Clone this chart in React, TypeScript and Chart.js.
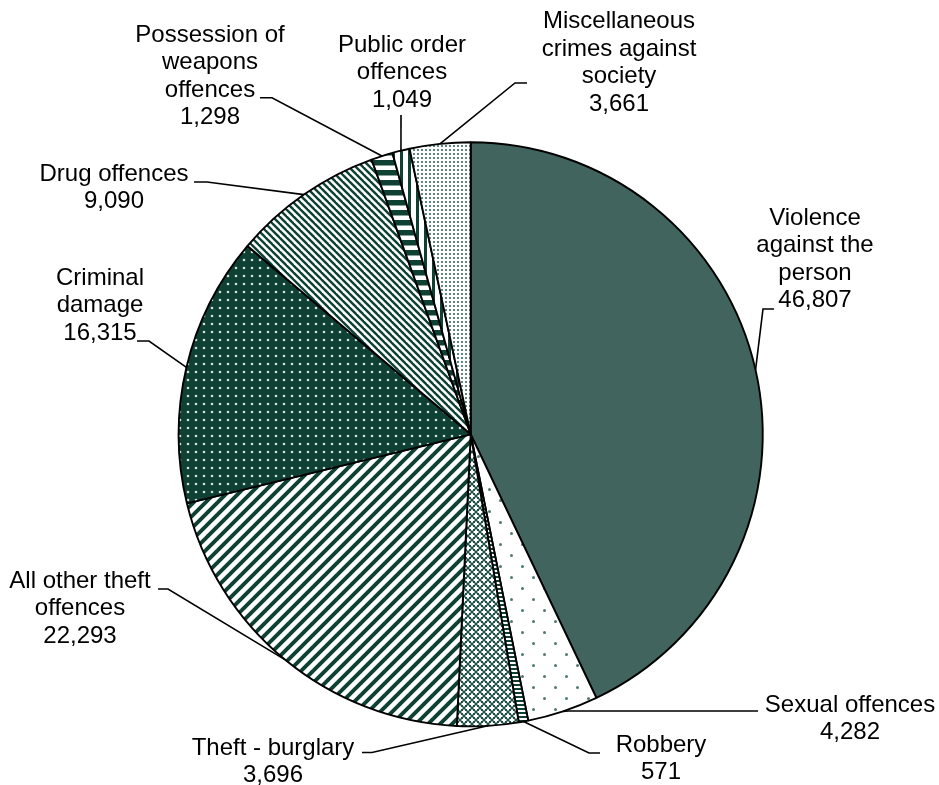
import React, { useEffect, useRef } from 'react';
import { Chart, registerables } from 'chart.js';

Chart.register(...registerables);

// ---- data ----
const categories = [
  'Violence against the person',
  'Sexual offences',
  'Robbery',
  'Theft - burglary',
  'All other theft offences',
  'Criminal damage',
  'Drug offences',
  'Possession of weapons offences',
  'Public order offences',
  'Miscellaneous crimes against society',
];
const values = [46807, 4282, 571, 3696, 22293, 16315, 9090, 1298, 1049, 3661];
const labelLines = [
  ['Violence', 'against the', 'person'],
  ['Sexual offences'],
  ['Robbery'],
  ['Theft - burglary'],
  ['All other theft', 'offences'],
  ['Criminal', 'damage'],
  ['Drug offences'],
  ['Possession of', 'weapons', 'offences'],
  ['Public order', 'offences'],
  ['Miscellaneous', 'crimes against', 'society'],
];

// ---- layout (label text centre x, first-line centre y, leader start, leader elbow) ----
const labelLayout = [
  { x: 815, y: 218, sx: 774, sy: 309, ex: 763, ey: 309 },
  { x: 850, y: 705, sx: 758, sy: 711, ex: 568, ey: 711 },
  { x: 661, y: 745, sx: 600, sy: 753, ex: 589, ey: 753 },
  { x: 273, y: 748, sx: 362, sy: 752.5, ex: 372, ey: 752.5 },
  { x: 80, y: 581, sx: 158, sy: 589, ex: 168, ey: 589 },
  { x: 100, y: 278, sx: 137, sy: 341, ex: 149, ey: 341 },
  { x: 114, y: 174, sx: 194, sy: 182, ex: 207, ey: 182 },
  { x: 210, y: 35, sx: 260, sy: 97.7, ex: 272, ey: 97.7 },
  { x: 402, y: 45, sx: 401, sy: 115, ex: 401, ey: 115 },
  { x: 619, y: 21.5, sx: 527, sy: 83, ex: 515, ey: 83 },
];
const LINE_H = 27.6;

const FG = '#0E4034';
const SOLID = '#41645F';

type Draw = (g: CanvasRenderingContext2D, w: number, h: number) => void;

function tile(ctx: CanvasRenderingContext2D, w: number, h: number, draw: Draw): CanvasPattern | string {
  const c = document.createElement('canvas');
  c.width = w;
  c.height = h;
  const g = c.getContext('2d')!;
  g.fillStyle = '#ffffff';
  g.fillRect(0, 0, w, h);
  draw(g, w, h);
  return ctx.createPattern(c, 'repeat') || FG;
}

function wrapped(w: number, h: number, fn: (dx: number, dy: number) => void) {
  for (const dx of [-w, 0, w]) for (const dy of [-h, 0, h]) fn(dx, dy);
}

function makeFills(ctx: CanvasRenderingContext2D) {
  const dot = (g: CanvasRenderingContext2D, x: number, y: number, r: number) => {
    g.beginPath();
    g.arc(x, y, r, 0, Math.PI * 2);
    g.fill();
  };
  const sexual = tile(ctx, 22, 22, (g, w, h) => {
    g.fillStyle = '#4F7A72';
    wrapped(w, h, (dx, dy) => {
      dot(g, 5.5 + dx, 5.5 + dy, 1.5);
      dot(g, 16.5 + dx, 16.5 + dy, 1.5);
    });
  });
  const robbery = tile(ctx, 4, 4, (g) => {
    g.fillStyle = FG;
    g.fillRect(0, 0, 4, 2);
  });
  const burglary = tile(ctx, 8, 8, (g, w, h) => {
    g.fillStyle = '#1F5045';
    g.fillRect(0, 0, w, h);
    g.fillStyle = '#ffffff';
    wrapped(w, h, (dx, dy) => {
      for (const [cx, cy] of [[0, 0], [4, 4]]) {
        g.fillRect(cx - 1 + dx, cy - 2.5 + dy, 2, 5);
        g.fillRect(cx - 2.5 + dx, cy - 1 + dy, 5, 2);
      }
    });
  });
  const otherTheft = tile(ctx, 12, 12, (g, w) => {
    g.strokeStyle = FG;
    g.lineWidth = 3.9;
    for (const x0 of [-w, 0, w]) {
      g.beginPath();
      g.moveTo(x0 - 2, w + 2);
      g.lineTo(x0 + w + 2, -2);
      g.stroke();
    }
  });
  const criminal = tile(ctx, 8, 8, (g, w, h) => {
    g.fillStyle = FG;
    g.fillRect(0, 0, w, h);
    g.fillStyle = '#D5DEDA';
    dot(g, 4, 4, 1.3);
  });
  const drug = tile(ctx, 7, 7, (g, w) => {
    g.strokeStyle = FG;
    g.lineWidth = 2.4;
    for (const x0 of [-w, 0, w]) {
      g.beginPath();
      g.moveTo(x0 - 2, -2);
      g.lineTo(x0 + w + 2, w + 2);
      g.stroke();
    }
  });
  const possession = tile(ctx, 4, 10, (g) => {
    g.fillStyle = FG;
    g.fillRect(0, 0, 4, 5.5);
  });
  const publicOrder = tile(ctx, 8, 4, (g) => {
    g.fillStyle = FG;
    g.fillRect(0, 0, 3, 4);
  });
  const misc = tile(ctx, 4, 4, (g) => {
    g.fillStyle = '#5C8780';
    g.fillRect(1, 1, 2, 2);
  });
  return [SOLID, sexual, robbery, burglary, otherTheft, criminal, drug, possession, publicOrder, misc];
}

const fmt = (v: number) => v.toLocaleString('en-US');

const labelPlugin = {
  id: 'pieLabels',
  afterDatasetsDraw(chart: any) {
    const ctx: CanvasRenderingContext2D = chart.ctx;
    const meta = chart.getDatasetMeta(0);
    ctx.save();
    meta.data.forEach((arc: any, i: number) => {
      const p = arc.getProps(['x', 'y', 'startAngle', 'endAngle', 'outerRadius'], true);
      const mid = (p.startAngle + p.endAngle) / 2;
      const ax = p.x + Math.cos(mid) * p.outerRadius;
      const ay = p.y + Math.sin(mid) * p.outerRadius;
      const L = labelLayout[i];
      ctx.strokeStyle = '#000';
      ctx.lineWidth = 1.6;
      ctx.beginPath();
      ctx.moveTo(L.sx, L.sy);
      ctx.lineTo(L.ex, L.ey);
      ctx.lineTo(ax, ay);
      ctx.stroke();
      const lines = [...labelLines[i], fmt(values[i])];
      ctx.fillStyle = '#000';
      ctx.font = '24px "Liberation Sans", Arial, sans-serif';
      ctx.textAlign = 'center';
      ctx.textBaseline = 'middle';
      lines.forEach((t, j) => ctx.fillText(t, L.x, L.y + j * LINE_H));
    });
    ctx.restore();
  },
};

export default function App() {
  const ref = useRef<HTMLCanvasElement | null>(null);
  useEffect(() => {
    const canvas = ref.current!;
    const ctx = canvas.getContext('2d')!;
    const fills = makeFills(ctx);
    const chart = new Chart(canvas, {
      type: 'pie',
      data: {
        labels: categories,
        datasets: [
          {
            data: values,
            backgroundColor: fills as any,
            borderColor: '#000',
            borderWidth: 1.9,
            hoverOffset: 0,
          },
        ],
      },
      options: {
        responsive: false,
        animation: false,
        devicePixelRatio: 1,
        layout: { padding: { left: 177.7, right: 175.3, top: 141.3, bottom: 57.7 } },
        plugins: { legend: { display: false }, tooltip: { enabled: false } },
        events: [],
      },
      plugins: [labelPlugin],
    });
    return () => chart.destroy();
  }, []);
  return (
    <div style={{ position: 'absolute', left: 0, top: 0, width: 939, height: 785, background: '#fff' }}>
      <canvas ref={ref} width={939} height={785} style={{ display: 'block' }} />
    </div>
  );
}
